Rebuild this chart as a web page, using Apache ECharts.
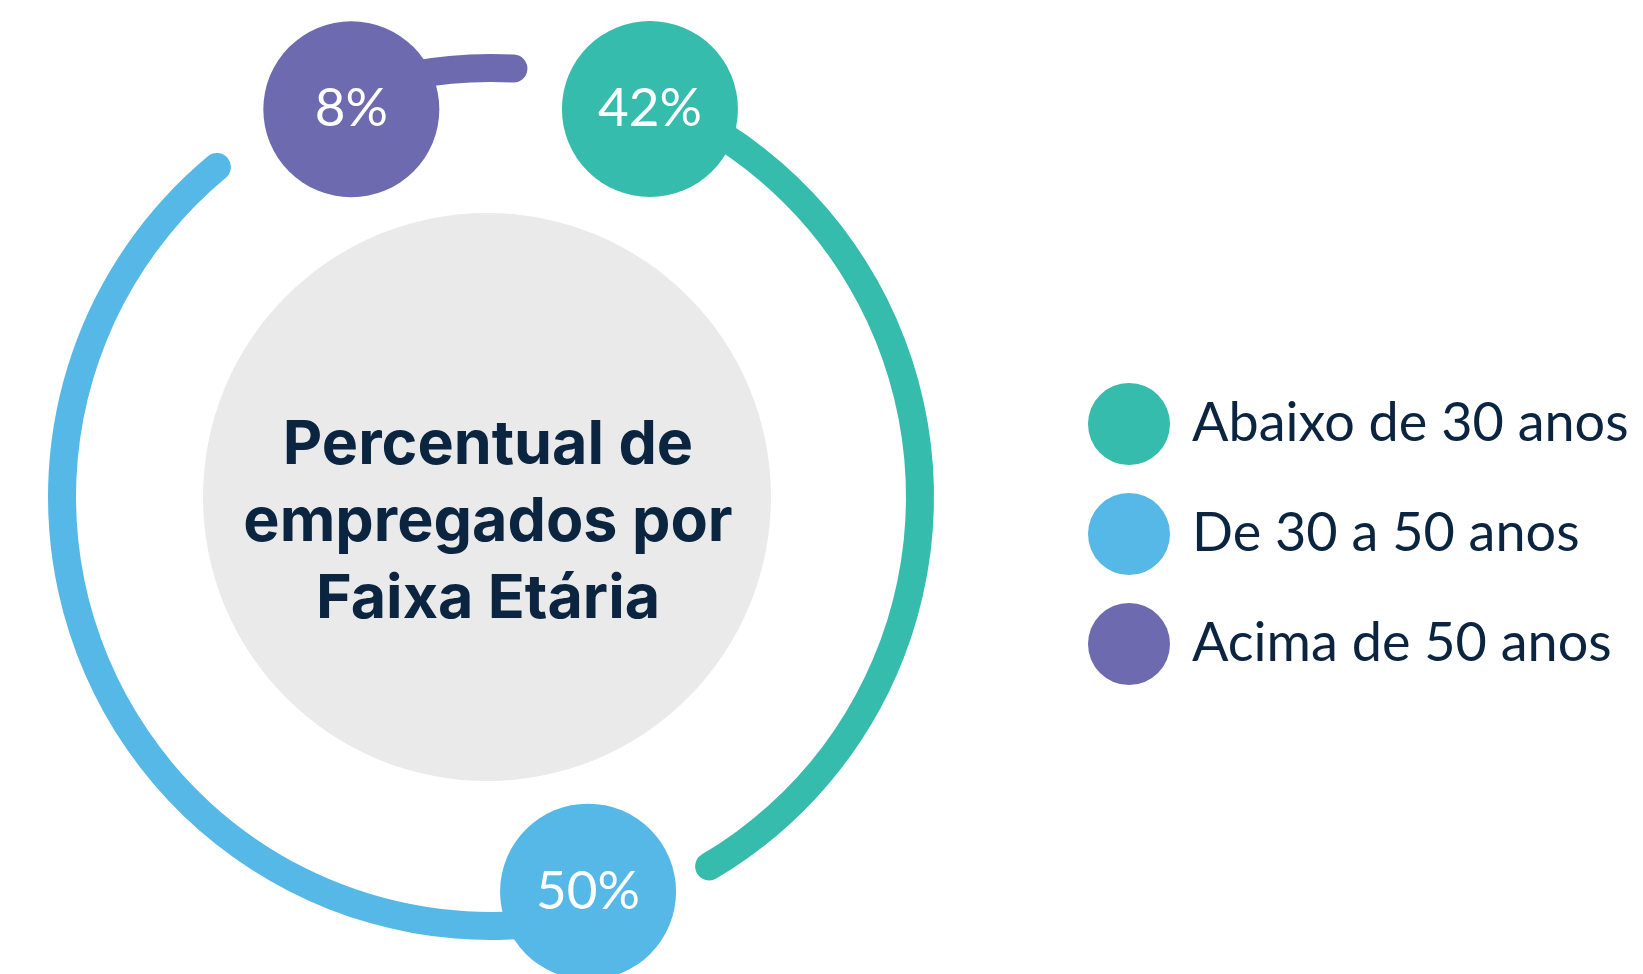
<!DOCTYPE html>
<html>
<head>
<meta charset="utf-8">
<title>Percentual de empregados por Faixa Etária</title>
<script src="https://cdn.jsdelivr.net/npm/echarts@6/dist/echarts.min.js"></script>
<style>
  html, body { margin: 0; padding: 0; background: #fff; }
  #main { width: 1643px; height: 974px; }
</style>
</head>
<body>
<div id="main"></div>
<script>
// dados
var faixas = ["Abaixo de 30 anos", "De 30 a 50 anos", "Acima de 50 anos"];
var percentuais = [42, 50, 8];
var cores = ["#35BCAD", "#55B8E7", "#6E6AB0"];
var titulo = "Percentual de\nempregados por\nFaixa Etária";

// espaço vazio entre um arco e o próximo círculo (mesma unidade dos percentuais)
var espaco = 6;
var total = 100 + espaco * faixas.length;

var mycharts = echarts.init(document.getElementById("main"));

// arcos empilhados, com um trecho transparente entre eles
var series = [];
var inicio = [];
var acumulado = 0;
faixas.forEach(function (nome, i) {
  inicio.push(acumulado);
  series.push({
    name: nome,
    type: "bar",
    coordinateSystem: "polar",
    polarIndex: 0,
    stack: "anel",
    roundCap: true,
    barWidth: 28,
    data: [percentuais[i]],
    itemStyle: { color: cores[i] },
    z: 2
  });
  series.push({
    name: "espaco" + i,
    type: "bar",
    coordinateSystem: "polar",
    polarIndex: 0,
    stack: "anel",
    barWidth: 28,
    data: [espaco],
    itemStyle: { color: "transparent" },
    silent: true
  });
  acumulado += percentuais[i] + espaco;
});

// círculo com o percentual no começo de cada arco
series.push({
  type: "scatter",
  coordinateSystem: "polar",
  polarIndex: 1,
  symbol: "circle",
  symbolSize: 176,
  z: 5,
  data: faixas.map(function (nome, i) {
    return { name: nome, value: [0, inicio[i]], itemStyle: { color: cores[i], opacity: 1 } };
  }),
  itemStyle: { opacity: 1 },
  label: {
    show: true,
    position: "inside",
    formatter: function (p) {
      return percentuais[p.dataIndex] + "%";
    },
    color: "#ffffff",
    fontFamily: "Lato",
    fontWeight: "normal",
    fontSize: 53
  }
});

var eixoAngulo = {
  type: "value",
  min: 0,
  max: total,
  startAngle: 68.7,
  clockwise: true,
  show: false,
  axisLine: { show: false },
  axisTick: { show: false },
  axisLabel: { show: false },
  splitLine: { show: false }
};
var eixoRaio = {
  type: "category",
  data: ["anel"],
  show: false,
  axisLine: { show: false },
  axisTick: { show: false },
  axisLabel: { show: false },
  splitLine: { show: false }
};

var option = {
  animation: false,
  backgroundColor: "#ffffff",
  polar: [
    { center: [491, 497], radius: [415, 443] },
    { center: [501, 491], radius: [398, 422] }
  ],
  angleAxis: [
    Object.assign({ polarIndex: 0 }, eixoAngulo),
    Object.assign({ polarIndex: 1 }, eixoAngulo)
  ],
  radiusAxis: [
    Object.assign({ polarIndex: 0 }, eixoRaio),
    Object.assign({ polarIndex: 1 }, eixoRaio)
  ],
  legend: {
    data: faixas,
    orient: "vertical",
    left: 1088,
    top: 383,
    padding: 0,
    icon: "circle",
    itemWidth: 82,
    itemHeight: 82,
    itemGap: 28,
    selectedMode: false,
    textStyle: {
      color: "#0B2440",
      fontFamily: "Lato",
      fontSize: 54,
      padding: [0, 0, 0, 17]
    }
  },
  graphic: [
    {
      type: "circle",
      shape: { cx: 487, cy: 497, r: 284 },
      style: { fill: "#EAEAEA" },
      z: 0,
      silent: true
    },
    {
      type: "text",
      x: 488,
      y: 523,
      z: 10,
      style: {
        text: titulo,
        fill: "#0B2440",
        fontFamily: "Inter",
        fontWeight: "bold",
        fontSize: 61,
        lineHeight: 77,
        align: "center",
        verticalAlign: "middle"
      }
    }
  ],
  series: series
};
mycharts.setOption(option);
</script>
</body>
</html>
